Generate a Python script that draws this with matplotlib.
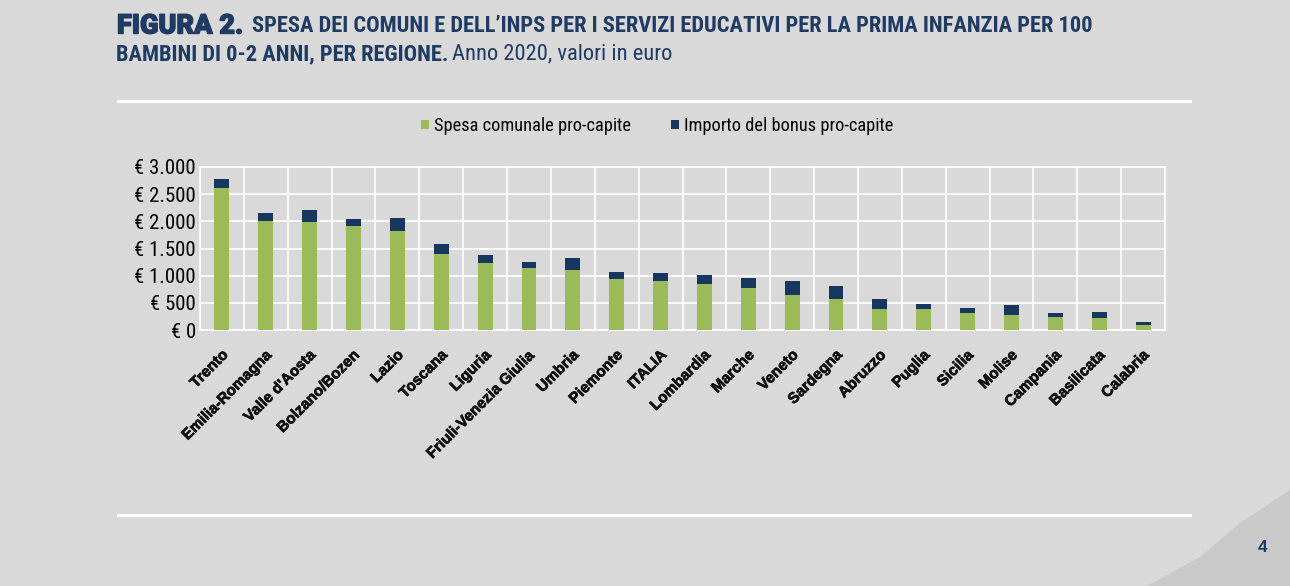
import matplotlib
matplotlib.use("Agg")
import matplotlib.pyplot as plt
import matplotlib.transforms as mtransforms
import matplotlib.patheffects as pe
from matplotlib import font_manager
from matplotlib.patches import Polygon
from matplotlib.ticker import FuncFormatter, MultipleLocator
import numpy as np

# spesa per 100 bambini 0-2 anni, anno 2020 (euro)
regioni = ["Trento", "Emilia-Romagna", "Valle d'Aosta", "Bolzano/Bozen", "Lazio",
           "Toscana", "Liguria", "Friuli-Venezia Giulia", "Umbria", "Piemonte",
           "ITALIA", "Lombardia", "Marche", "Veneto", "Sardegna", "Abruzzo",
           "Puglia", "Sicilia", "Molise", "Campania", "Basilicata", "Calabria"]
spesa_comunale = [2620, 2010, 1980, 1910, 1825, 1405, 1230, 1135, 1110, 935,
                  895, 840, 780, 635, 570, 395, 395, 305, 275, 245, 215, 100]
bonus = [150, 140, 225, 125, 235, 175, 145, 125, 210, 140,
         155, 180, 185, 270, 240, 180, 90, 95, 185, 60, 125, 55]

BG = "#d9d9d9"
VERDE = "#9bbb59"
BLU = "#17375e"
TITOLO = "#1f3a63"

fonts = font_manager.fontManager.ttflist
installed = {f.name for f in fonts}
narrow = next((n for n in ["Liberation Sans Narrow", "Roboto Condensed", "Open Sans Condensed",
                           "DejaVu Sans Condensed", "Liberation Sans"] if n in installed), "DejaVu Sans")
HAS_NARROW = narrow != "Liberation Sans"


def has_weight(name, w):
    return any(f.name == name and isinstance(f.weight, int) and f.weight >= w
               and f.style == "normal" for f in fonts)


# serve un sans con il grassetto vero per titolo ed etichette
sans = next((n for n in ["Liberation Sans", "Arimo", "Roboto", "Open Sans", "Lato", "Inter"]
             if has_weight(n, 700)), "DejaVu Sans")
heavy = next((n for n in ["Roboto", "Lato", "Inter", "Open Sans"] if has_weight(n, 850)), sans)
SANS = [sans, "DejaVu Sans"]
NARROW = [narrow, "DejaVu Sans"]
k = 1.0 if HAS_NARROW else 0.85  # shrink sizes when no condensed face exists

W, H = 1290, 586
fig = plt.figure(figsize=(W / 100, H / 100), dpi=100)
fig.patch.set_facecolor(BG)


def fx(px):
    return px / W


def fy(py):
    return 1 - py / H


# triangolo in basso a destra
fig.patches.append(Polygon([[fx(1147), fy(586)], [fx(1200), fy(557)], [fx(1240), fy(523)],
                            [fx(1290), fy(490)], [fx(1290), fy(586)]],
                           closed=True, transform=fig.transFigure, facecolor="#c9c9c9",
                           edgecolor="none", zorder=0))

# linee bianche sopra e sotto il grafico
for y in (101, 515):
    fig.add_artist(plt.Line2D([fx(118), fx(1190)], [fy(y), fy(y)], color="white",
                              lw=2.2, transform=fig.transFigure))

# titolo
fig.text(fx(117), fy(26), "FIGURA 2.", fontsize=19.5, fontweight="black",
         color=TITOLO, va="center", family=[heavy, "DejaVu Sans"],
         path_effects=[pe.withStroke(linewidth=1.0, foreground=TITOLO)])
fig.text(fx(252), fy(26), "SPESA DEI COMUNI E DELL\u2019INPS PER I SERVIZI EDUCATIVI PER LA PRIMA INFANZIA PER 100",
         fontsize=16.2 * k, fontweight="bold", color=TITOLO, va="center", family=NARROW)
t2 = fig.text(fx(116), fy(54), "BAMBINI DI 0-2 ANNI, PER REGIONE.", fontsize=16.2 * k,
              fontweight="bold", color=TITOLO, va="center", family=NARROW)
fig.canvas.draw()
bb = t2.get_window_extent()
fig.text(bb.x1 / W + fx(4), fy(54), "Anno 2020, valori in euro", fontsize=16.2 * k,
         color=TITOLO, va="center", family=NARROW)

fig.text(fx(1263), fy(548), "4", fontsize=12.5, fontweight="bold", color=TITOLO,
         ha="center", va="center", family=SANS)

ax = fig.add_axes([fx(200), fy(330), fx(1165) - fx(200), fy(167) - fy(330)])
ax.set_facecolor(BG)

x = np.arange(len(regioni))
b1 = ax.bar(x, spesa_comunale, width=0.34, color=VERDE, zorder=3,
            label="Spesa comunale pro-capite")
b2 = ax.bar(x, bonus, width=0.34, bottom=spesa_comunale, color=BLU, zorder=3,
            label="Importo del bonus pro-capite")

ax.set_xlim(-0.5, len(regioni) - 0.5)
ax.set_ylim(0, 3000)
ax.yaxis.set_major_locator(MultipleLocator(500))
ax.yaxis.set_major_formatter(FuncFormatter(
    lambda v, p: "\u20ac " + f"{int(v):,}".replace(",", ".")))

ax.set_xticks(x)
ax.set_xticks(np.arange(-0.5, len(regioni), 1), minor=True)
ax.grid(True, which="minor", axis="x", color="white", lw=1.2, zorder=1)
ax.grid(True, which="major", axis="y", color="white", lw=1.2, zorder=1)
ax.tick_params(axis="both", which="both", length=0)
for s in ax.spines.values():
    s.set_color("white")
    s.set_linewidth(1.2)

ax.set_xticklabels(regioni, rotation=45, ha="right", rotation_mode="anchor",
                   fontsize=11, fontweight="bold", family=SANS, color="#111111")
off = mtransforms.ScaledTranslation(-1 / 100, -13 / 100, fig.dpi_scale_trans)
for lbl in ax.get_xticklabels():
    lbl.set_transform(lbl.get_transform() + off)
    lbl.set_path_effects([pe.withStroke(linewidth=0.5, foreground="#111111")])
for lbl in ax.get_yticklabels():
    lbl.set_family(NARROW)
    lbl.set_fontsize(15 * k)
ax.tick_params(axis="y", pad=3)

fig.legend(handles=[b1, b2], loc="center", bbox_to_anchor=(fx(657), fy(126)),
           ncol=2, frameon=False, handlelength=0.45, handleheight=0.45,
           handletextpad=0.25, columnspacing=2.2, prop={"family": NARROW, "size": 13.2 * k})

fig.savefig("out.png", dpi=100, facecolor=BG)
